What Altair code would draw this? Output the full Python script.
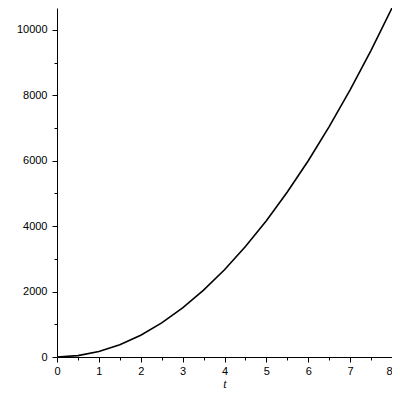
import altair as alt
import pandas as pd

t_vals = [0, 0.5, 1, 1.5, 2, 2.5, 3, 3.5, 4, 4.5, 5, 5.5, 6, 6.5, 7, 7.5, 8]
y_vals = [0, 42, 167, 375, 667, 1042, 1500, 2042, 2667, 3375, 4167, 5042, 6000, 7042, 8167, 9375, 10667]
x_ticks = [0, 0.5, 1, 1.5, 2, 2.5, 3, 3.5, 4, 4.5, 5, 5.5, 6, 6.5, 7, 7.5, 8]
y_ticks = [0, 1000, 2000, 3000, 4000, 5000, 6000, 7000, 8000, 9000, 10000]

df = pd.DataFrame({"t": t_vals, "y": y_vals})

font = "Liberation Sans"

chart = alt.Chart(df).mark_line(color="black", strokeWidth=1.6, clip=True).encode(
    x=alt.X("t:Q", scale=alt.Scale(domain=[0, 8], nice=False, zero=False),
            axis=alt.Axis(values=x_ticks, title="t", titleFont="Liberation Serif",
                          titleFontStyle="italic", titleFontWeight="normal", titleFontSize=12,
                          titlePadding=2, titleColor="black",
                          labelExpr="datum.value % 1 === 0 ? format(datum.value, 'd') : ''",
                          labelAlign={"condition": {"test": "datum.value === 8", "value": "right"}, "value": "center"},
                          tickSize={"condition": {"test": "datum.value % 1 === 0", "value": 5}, "value": 3},
                          labelFont=font, labelFontSize=11, labelColor="black",
                          domainColor="black", tickColor="black", grid=False,
                          labelPadding=3, labelFlush=False)),
    y=alt.Y("y:Q", scale=alt.Scale(domain=[0, 10667], nice=False),
            axis=alt.Axis(values=y_ticks, title=None,
                          labelExpr="datum.value % 2000 === 0 ? format(datum.value, 'd') : ''",
                          tickSize={"condition": {"test": "datum.value % 2000 === 0", "value": 5}, "value": 3},
                          labelFont=font, labelFontSize=11, labelColor="black",
                          domainColor="black", tickColor="black", grid=False,
                          labelPadding=5, labelFlush=False)),
).properties(
    width=335, height=349,
    autosize=alt.AutoSizeParams(type="none"),
    padding={"left": 49, "top": 0, "right": 0, "bottom": 35},
).configure_view(stroke=None)

chart.save("out.html", embed_options={"renderer": "svg", "actions": False})
